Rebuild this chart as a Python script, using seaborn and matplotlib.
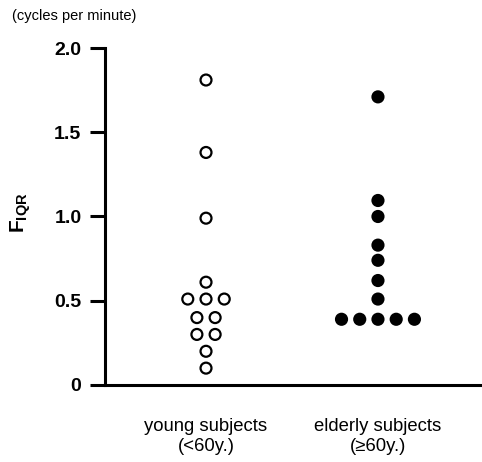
import seaborn as sns
import matplotlib.pyplot as plt
import pandas as pd

# Valores (ciclos por minuto)
jovens = [1.81, 1.38, 0.99, 0.61, 0.51, 0.51, 0.51, 0.40, 0.40, 0.30, 0.30, 0.20, 0.10]
idosos = [1.71, 1.095, 1.0, 0.83, 0.74, 0.62, 0.51, 0.39, 0.39, 0.39, 0.39, 0.39]
grupos = ["young", "elderly"]
rotulos_x = ["young subjects\n(<60y.)", "elderly subjects\n(\u226560y.)"]
ticks_y = [0, 0.5, 1.0, 1.5, 2.0]
rotulos_y = ["0", "0.5", "1.0", "1.5", "2.0"]

sns.set_theme(style="ticks")
plt.rcParams["font.family"] = ["Liberation Sans", "DejaVu Sans"]
plt.rcParams["mathtext.fontset"] = "custom"
plt.rcParams["mathtext.bf"] = "Liberation Sans:bold"
plt.rcParams["mathtext.rm"] = "Liberation Sans"
for chave in ["text.color", "axes.labelcolor", "xtick.color", "ytick.color", "axes.edgecolor"]:
    plt.rcParams[chave] = "black"

dados = pd.DataFrame({
    "grupo": ["young"] * len(jovens) + ["elderly"] * len(idosos),
    "F": jovens + idosos,
})

# Deslocamento horizontal simétrico para valores repetidos (tipo "dot plot")
espaco = 0.106
dados["ordem"] = dados.groupby(["grupo", "F"]).cumcount()
dados["n"] = dados.groupby(["grupo", "F"])["F"].transform("size")
dados["x"] = dados["grupo"].map({g: i for i, g in enumerate(grupos)}) + (dados["ordem"] - (dados["n"] - 1) / 2) * espaco

fig = plt.figure(figsize=(4.82, 4.62), dpi=100)
ax = fig.add_axes([0.218, 0.1667, 0.782, 0.7294])

sns.scatterplot(data=dados, x="x", y="F", hue="grupo",
                palette={"young": "white", "elderly": "black"},
                edgecolor="black", linewidth=1.6, s=62, legend=False, ax=ax)

ax.set_xlim(-0.587, 1.605)
ax.set_ylim(0, 2.0)
ax.set_xticks([0, 1])
ax.set_xticklabels(rotulos_x, fontsize=13.3)
ax.tick_params(axis="x", length=0, pad=24)
ax.set_yticks(ticks_y)
ax.set_yticklabels(rotulos_y, fontsize=14, fontweight="bold")
ax.tick_params(axis="y", length=11, width=2.2, pad=6)
ax.set_xlabel("")
ax.set_ylabel(r"$\mathbf{F}_{\mathbf{IQR}}$", fontsize=15, rotation=90)
ax.yaxis.set_label_coords(-0.19, 0.51)

sns.despine(ax=ax)
for lado in ["left", "bottom"]:
    ax.spines[lado].set_linewidth(2.2)

fig.text(0.025, 0.965, "(cycles per minute)", fontsize=10.5, va="center")

plt.savefig("out.png", dpi=100)
plt.close()
